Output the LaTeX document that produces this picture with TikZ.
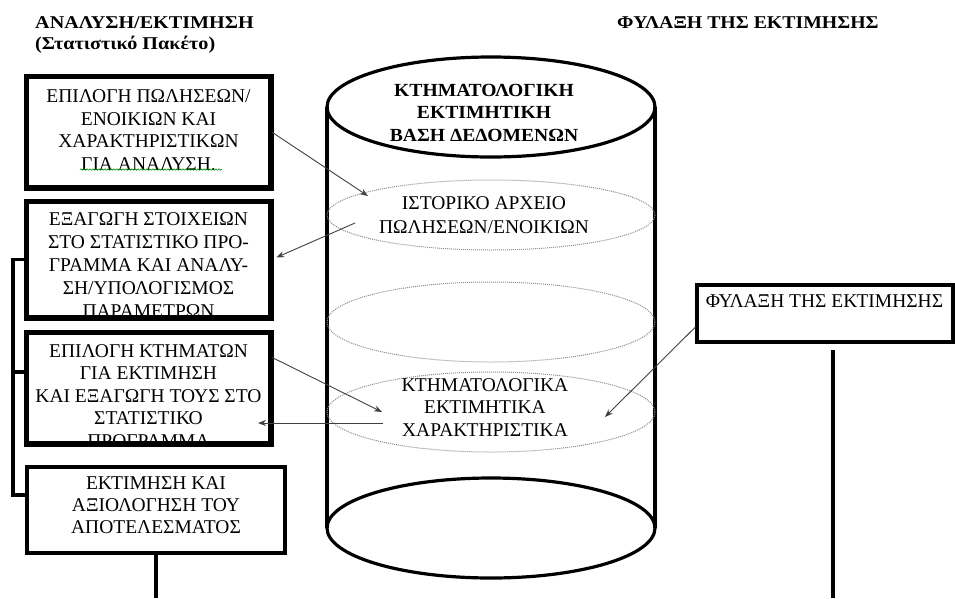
\documentclass[tikz,border=0pt]{standalone}
\usepackage{fontspec}
\setmainfont{Liberation Serif}
\usetikzlibrary{arrows.meta,decorations.pathmorphing}
\newcommand{\widehead}[1]{\scalebox{1.12}[1]{#1}}
\begin{document}
\begin{tikzpicture}[x=1pt,y=-1pt,
  panel/.style={draw=black, line width=3.5pt, inner sep=0pt},
  txt/.style={font=\fontsize{19.5}{22.5}\selectfont, align=center, inner sep=0pt},
  head/.style={font=\fontsize{18}{22}\selectfont\bfseries, inner sep=0pt},
  thick line/.style={draw=black, line width=3.2pt},
  layer/.style={draw=black!45, line width=1pt, densely dotted},
  conn/.style={draw=black!75, line width=0.9pt, -{Stealth[length=8pt,width=6pt]}}]
\useasboundingbox (0,0) rectangle (955,598);

% column headings
\node[head, anchor=base west] (hA) at (35,28) {\widehead{ΑΝΑΛΥΣΗ/ΕΚΤΙΜΗΣΗ}};
\node[head, anchor=base west] (hB) at (35,49) {\widehead{(Στατιστικό Πακέτο)}};
\node[head, anchor=base west] (hC) at (617,28) {\scalebox{1.1}[1]{ΦΥΛΑΞΗ ΤΗΣ ΕΚΤΙΜΗΣΗΣ}};

% database cylinder
\draw[thick line] (327,107) -- (327,528);
\draw[thick line] (655,107) -- (655,528);
\draw[thick line] (491,107) ellipse [x radius=164, y radius=50];
\draw[thick line] (491,528) ellipse [x radius=164, y radius=50];
\draw[layer] (491,215) ellipse [x radius=164, y radius=35];
\draw[layer] (491,322) ellipse [x radius=164, y radius=40];
\draw[layer] (491,412) ellipse [x radius=164, y radius=40];
\node[head, align=center, font=\fontsize{18.5}{22.5}\selectfont\bfseries] (db) at (484,112.5)
  {\scalebox{1.06}[1]{ΚΤΗΜΑΤΟΛΟΓΙΚΗ}\\\scalebox{1.06}[1]{ΕΚΤΙΜΗΤΙΚΗ}\\\scalebox{1.06}[1]{ΒΑΣΗ ΔΕΔΟΜΕΝΩΝ}};
\node[txt, align=center, font=\fontsize{19.5}{24}\selectfont] (hist) at (484,215)
  {ΙΣΤΟΡΙΚΟ ΑΡΧΕΙΟ\\ΠΩΛΗΣΕΩΝ/ΕΝΟΙΚΙΩΝ};
\node[txt] (feat) at (485,407.5) {ΚΤΗΜΑΤΟΛΟΓΙΚΑ\\ΕΚΤΙΜΗΤΙΚΑ\\ΧΑΡΑΚΤΗΡΙΣΤΙΚΑ};

% analysis steps
\node[panel, minimum width=243, minimum height=110] (b1) at (148.5,132) {};
\node[panel, minimum width=243, minimum height=115] (b2) at (148.5,259.5) {};
\node[panel, minimum width=243, minimum height=110] (b3) at (148.5,388) {};
\node[panel, minimum width=258, minimum height=86] (b4) at (156,510) {};
\node[panel, minimum width=256, minimum height=57] (rb) at (825,313.5) {};

\begin{scope}
  \clip (b1.north west) rectangle (b1.south east);
  \node[txt] (t1) at (148.5,130) {ΕΠΙΛΟΓΗ ΠΩΛΗΣΕΩΝ/\\ΕΝΟΙΚΙΩΝ ΚΑΙ\\ΧΑΡΑΚΤΗΡΙΣΤΙΚΩΝ\\ΓΙΑ ΑΝΑΛΥΣΗ.};
\end{scope}
\begin{scope}
  \clip (b2.north west) rectangle (b2.south east);
  \node[txt, font=\fontsize{19.5}{23.2}\selectfont] (t2) at (148.5,265) {ΕΞΑΓΩΓΗ ΣΤΟΙΧΕΙΩΝ\\ΣΤΟ ΣΤΑΤΙΣΤΙΚΟ ΠΡΟ-\\ΓΡΑΜΜΑ ΚΑΙ ΑΝΑΛΥ-\\ΣΗ/ΥΠΟΛΟΓΙΣΜΟΣ\\ΠΑΡΑΜΕΤΡΩΝ};
\end{scope}
\begin{scope}
  \clip (b3.north west) rectangle (b3.south east);
  \node[txt, font=\fontsize{19.5}{22.6}\selectfont] (t3) at (148.5,396) {ΕΠΙΛΟΓΗ ΚΤΗΜΑΤΩΝ\\ΓΙΑ ΕΚΤΙΜΗΣΗ\\ΚΑΙ ΕΞΑΓΩΓΗ ΤΟΥΣ ΣΤΟ\\ΣΤΑΤΙΣΤΙΚΟ\\ΠΡΟΓΡΑΜΜΑ};
\end{scope}
\node[txt, font=\fontsize{19.5}{22}\selectfont] (t4) at (156,505) {ΕΚΤΙΜΗΣΗ ΚΑΙ\\ΑΞΙΟΛΟΓΗΣΗ ΤΟΥ\\ΑΠΟΤΕΛΕΣΜΑΤΟΣ};
\node[txt, anchor=base] (t5) at (824.5,307) {ΦΥΛΑΞΗ ΤΗΣ ΕΚΤΙΜΗΣΗΣ};

% redrawn borders over the clipped text
\draw[panel] (b1.north west) rectangle (b1.south east);
\draw[panel] (b2.north west) rectangle (b2.south east);
\draw[panel] (b3.north west) rectangle (b3.south east);

% spell-check underline
\draw[green!55!black, line width=0.6pt, decorate,
  decoration={snake, segment length=3pt, amplitude=0.7pt}] (80,169.5) -- (222,169.5);

% bracket joining the analysis steps
\coordinate (brTop) at (13,259.5);
\coordinate (brMid) at (13,372);
\coordinate (brBot) at (13,495);
\draw[thick line] (b2.west) -- (brTop) -- (brBot) -- (b4.west |- brBot);
\draw[thick line] (brMid) -- (b3.west |- brMid);

% outgoing lines
\coordinate (outA) at (156,598);
\coordinate (rTop) at (833,350);
\coordinate (outB) at (833,598);
\draw[thick line] (b4.south) -- (outA);
\draw[thick line] (rTop) -- (outB);

% data flows
\coordinate (p1) at (368,196);
\coordinate (p2) at (355,223);
\coordinate (p3) at (382,412);
\coordinate (p4) at (383,423);
\coordinate (p4e) at (258,423);
\coordinate (p5) at (605,417);
\draw[conn] (b1.east) -- (p1);
\draw[conn, shorten >=5pt] (p2) -- (b2.east);
\draw[conn] (b3.14) -- (p3);
\draw[conn] (p4) -- (p4e);
\draw[conn] (rb.186) -- (p5);
\end{tikzpicture}
\end{document}
